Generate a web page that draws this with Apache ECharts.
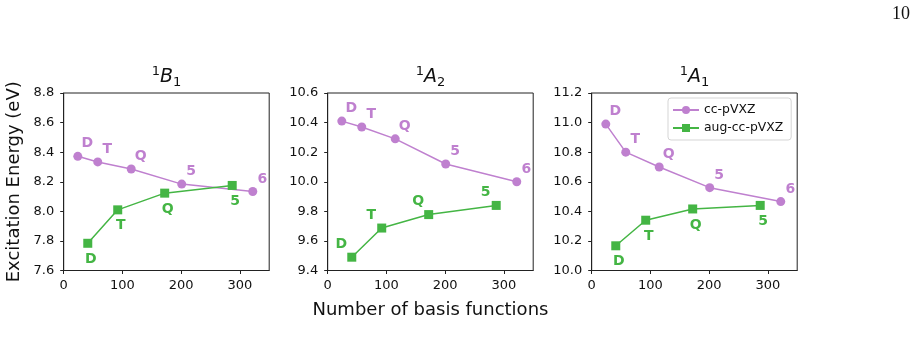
<!DOCTYPE html>
<html>
<head>
<meta charset="utf-8">
<script src="https://cdn.jsdelivr.net/npm/echarts@6/dist/echarts.min.js"></script>
<style>
  html, body { margin: 0; padding: 0; background: #fff; }
  #chart { width: 916px; height: 357px; }
</style>
</head>
<body>
<div id="chart"></div>
<script>
// ---- data ----
const xTicks = [0, 100, 200, 300];
const ccBasis = [24, 58, 115, 201, 322];
const augBasis = [41, 92, 172, 287];
const ccLabels = ['D', 'T', 'Q', '5', '6'];
const augLabels = ['D', 'T', 'Q', '5'];
const ccB1 = [8.372, 8.334, 8.286, 8.184, 8.134];
const augB1 = [7.784, 8.010, 8.123, 8.175];
const ccA2 = [10.41, 10.37, 10.29, 10.12, 10.00];
const augA2 = [9.49, 9.687, 9.778, 9.84];
const ccA1 = [10.99, 10.80, 10.70, 10.56, 10.466];
const augA1 = [10.167, 10.34, 10.416, 10.44];
const yMins = [7.6, 9.4, 10.0];
const yMaxs = [8.8, 10.6, 11.2];
const panelTitles = [['1', 'B', '1'], ['1', 'A', '2'], ['1', 'A', '1']];
const seriesNames = ['cc-pVXZ', 'aug-cc-pVXZ'];

// ---- style ----
const PURPLE = '#bf80cf';
const GREEN = '#44b544';
const FONT = 'DejaVu Sans';
const lefts = [63.7, 327.7, 591.7];
const W = 205.5, TOP = 93, H = 177.5;

const ccData = [ccB1, ccA2, ccA1];
const augData = [augB1, augA2, augA1];
const augOffsets = [[3, 16], [-10.5, -13], [3, 16]];

const grids = [], xAxes = [], yAxes = [], series = [], graphics = [];
for (let i = 0; i < 3; i++) {
  grids.push({ left: lefts[i], top: TOP, width: W, height: H, show: true,
    borderColor: '#222', borderWidth: 1, backgroundColor: 'transparent', containLabel: false });
  xAxes.push({
    type: 'value', gridIndex: i, min: 0, max: 350, interval: 100,
    splitLine: { show: false },
    axisLine: { show: true, onZero: false, lineStyle: { color: '#222', width: 1 } },
    axisTick: { show: true, length: 3.5, lineStyle: { color: '#222', width: 1 }, customValues: xTicks },
    axisLabel: { color: '#111', fontFamily: FONT, fontSize: 13, margin: 9, customValues: xTicks },
    name: i === 1 ? 'Number of basis functions' : '',
    nameLocation: 'middle', nameGap: 31,
    nameTextStyle: { fontFamily: FONT, fontSize: 18, color: '#111' }
  });
  yAxes.push({
    type: 'value', gridIndex: i, min: yMins[i], max: yMaxs[i], interval: 0.2,
    splitLine: { show: false },
    axisLine: { show: true, onZero: false, lineStyle: { color: '#222', width: 1 } },
    axisTick: { show: true, length: 3.5, lineStyle: { color: '#222', width: 1 } },
    axisLabel: { color: '#111', fontFamily: FONT, fontSize: 13, margin: 9.5,
      formatter: v => Number(v).toFixed(1) },
    name: i === 0 ? 'Excitation Energy (eV)' : '',
    nameLocation: 'middle', nameGap: 40, nameRotate: 90,
    nameTextStyle: { fontFamily: FONT, fontSize: 18, color: '#111' }
  });
  series.push({
    name: seriesNames[0], type: 'line', xAxisIndex: i, yAxisIndex: i,
    data: ccBasis.map((x, k) => [x, ccData[i][k]]),
    symbol: 'circle', symbolSize: 9, color: PURPLE,
    lineStyle: { width: 1.5, color: PURPLE }, itemStyle: { color: PURPLE },
    label: { show: true, position: 'inside', offset: [9.5, -12.5],
      formatter: p => ccLabels[p.dataIndex],
      color: PURPLE, fontFamily: FONT, fontWeight: 'bold', fontSize: 14 },
    emphasis: { disabled: true }, animation: false, z: 3
  });
  series.push({
    name: seriesNames[1], type: 'line', xAxisIndex: i, yAxisIndex: i,
    data: augBasis.map((x, k) => [x, augData[i][k]]),
    symbol: 'rect', symbolSize: 9, color: GREEN,
    lineStyle: { width: 1.5, color: GREEN }, itemStyle: { color: GREEN },
    label: { show: true, position: 'inside', offset: augOffsets[i],
      formatter: p => augLabels[p.dataIndex],
      color: GREEN, fontFamily: FONT, fontWeight: 'bold', fontSize: 14 },
    emphasis: { disabled: true }, animation: false, z: 4
  });
  const t = panelTitles[i];
  graphics.push({
    type: 'text', x: lefts[i] + W / 2, y: 77.5,
    style: {
      text: '{sup|' + t[0] + '}{b|' + t[1] + '}{sub|' + t[2] + '}',
      align: 'center', verticalAlign: 'middle',
      rich: {
        sup: { fontFamily: FONT, fontSize: 13, lineHeight: 14, verticalAlign: 'top', fill: '#111' },
        b: { fontFamily: FONT, fontSize: 19, fontStyle: 'italic', lineHeight: 24, fill: '#111' },
        sub: { fontFamily: FONT, fontSize: 13, lineHeight: 14, verticalAlign: 'bottom', fill: '#111' }
      }
    }
  });
}
graphics.push({
  type: 'text', right: 6, top: 5,
  style: { text: '10', font: '18px "Liberation Serif"', fill: '#111' }
});

const chart = echarts.init(document.getElementById('chart'), null, { renderer: 'canvas' });
chart.setOption({
  animation: false,
  backgroundColor: '#fff',
  grid: grids, xAxis: xAxes, yAxis: yAxes, series: series,
  legend: {
    data: seriesNames, orient: 'vertical', left: 668, top: 98,
    itemWidth: 26, itemHeight: 10, itemGap: 6,
    padding: [6, 8, 6, 4],
    backgroundColor: 'rgba(255,255,255,0.8)', borderColor: '#d5d5d5', borderWidth: 1, borderRadius: 3,
    textStyle: { fontFamily: FONT, fontSize: 12.4, color: '#111' },
    selectedMode: false
  },
  graphic: graphics
});
</script>
</body>
</html>
